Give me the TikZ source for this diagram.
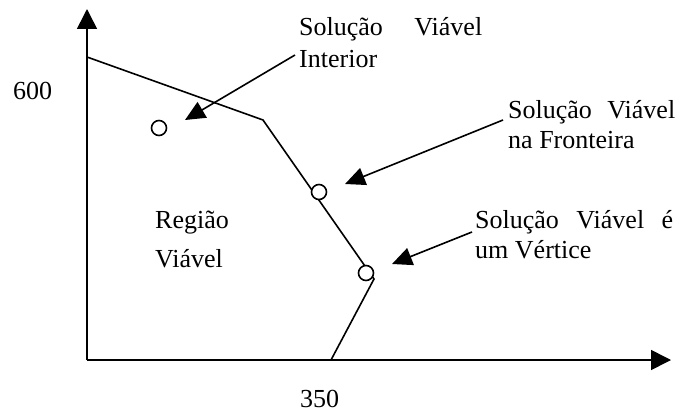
\documentclass[tikz,border=0pt]{standalone}
\usepackage{fontspec}
\setmainfont{Liberation Serif}
\usetikzlibrary{arrows.meta}
\begin{document}
\begin{tikzpicture}[x=1pt,y=-1pt,
  lbl/.style={inner sep=0pt,anchor=base west,font=\fontsize{26}{30}\selectfont},
  axis/.style={line width=1.6pt,-{Triangle[length=20pt,width=20pt]}},
  pointer/.style={line width=1.6pt,-{Triangle[length=20pt,width=18pt]}},
  bound/.style={line width=1.6pt,line join=miter},
  sol/.style={circle,draw,line width=1.6pt,fill=white,minimum size=15pt,inner sep=0pt}]
\useasboundingbox (0,0) rectangle (679,412);
% axes
\coordinate (O) at (87,360);
\coordinate (ytip) at (87,9);
\coordinate (xtip) at (671,360);
\draw[axis] (O) -- (ytip);
\draw[axis] (O) -- (xtip);
% boundary
\coordinate (b1) at (87,57);
\coordinate (b2) at (263,120);
\coordinate (b3) at (374,279);
\coordinate (b4) at (331,360);
\draw[bound] (b1) -- (b2) -- (b3) -- (b4);
% points
\node[sol] (pint) at (159,128) {};
\node[sol] (pfront) at (319,192) {};
\node[sol] (pvert) at (366,273) {};
% labels
\node[lbl] (l600) at (13,99) {600};
\node[lbl] (l350) at (300,407) {350};
\node[lbl] (reg1) at (155,228) {Região};
\node[lbl] (reg2) at (155,267) {Viável};
\node[lbl] (int1) at (299,36) {\makebox[183pt][s]{Solução Viável}};
\node[lbl] (int2) at (299,67) {Interior};
\node[lbl] (fr1) at (508,118) {\makebox[167pt][s]{Solução Viável}};
\node[lbl] (fr2) at (508,148) {na Fronteira};
\node[lbl] (vx1) at (475,228) {\makebox[198pt][s]{Solução Viável é}};
\node[lbl] (vx2) at (475,258) {um Vértice};
% pointers
\coordinate (aint) at (185,120);
\coordinate (afr) at (345,184);
\coordinate (avx) at (392,264);
\coordinate (sint) at (295,55);
\coordinate (sfr) at (503,120);
\coordinate (svx) at (472,232);
\draw[pointer] (sint) -- (aint);
\draw[pointer] (sfr) -- (afr);
\draw[pointer] (svx) -- (avx);
\end{tikzpicture}
\end{document}
